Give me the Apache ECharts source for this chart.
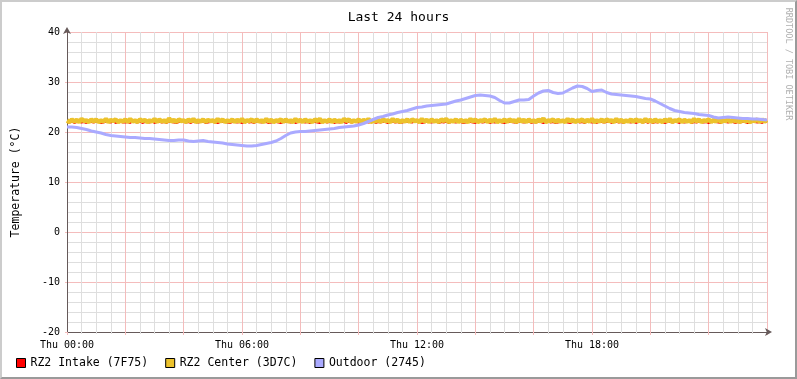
<!DOCTYPE html>
<html>
<head>
<meta charset="utf-8">
<script src="https://cdn.jsdelivr.net/npm/echarts@6/dist/echarts.min.js"></script>
<style>
html,body{margin:0;padding:0;background:#fff;}
#wrap{position:relative;width:797px;height:379px;}
#chart{position:absolute;left:0;top:0;width:797px;height:379px;}
#frame{position:absolute;left:0;top:0;width:797px;height:379px;box-sizing:border-box;
  border-top:2px solid #cccccc;border-left:2px solid #cccccc;border-right:2px solid #9a9a9a;border-bottom:2px solid #9a9a9a;pointer-events:none;}
</style>
</head>
<body>
<div id="wrap"><div id="chart"></div><div id="frame"></div></div>
<script>
// ---- data ----
const titleText = 'Last 24 hours';
const yAxisTitle = 'Temperature (°C)';
const seriesNames = ['RZ2 Intake (7F75)', 'RZ2 Center (3D7C)', 'Outdoor (2745)'];
const xTickLabels = ['Thu 00:00', 'Thu 06:00', 'Thu 12:00', 'Thu 18:00'];
const yTicks = [-20, -10, 0, 10, 20, 30, 40];
const fineStepHours = 5 / 60;    // Intake / Center sampling
const outdoorStepHours = 10 / 60; // Outdoor sampling

const intake = [
22.0,21.9,22.1,21.8,22.0,22.1,21.9,22.0,21.8,22.1,22.0,21.9,22.1,22.0,21.8,21.9,22.1,22.0,21.9,22.1,21.8,22.0,22.1,21.9,
21.9,22.0,21.8,22.1,22.0,21.9,22.1,21.8,22.0,22.0,21.9,22.1,21.8,22.0,22.1,21.9,22.0,21.8,22.1,22.0,21.9,21.8,22.0,22.1,
22.1,21.9,22.0,21.8,22.1,22.0,21.9,22.0,22.1,21.8,21.9,22.0,22.1,21.9,21.8,22.0,22.0,22.1,21.9,21.8,22.0,22.1,21.9,22.0,
21.8,22.0,22.1,21.9,22.0,21.8,22.1,22.0,21.9,22.1,22.0,21.8,21.9,22.1,22.0,21.9,21.8,22.0,22.1,22.0,21.9,22.1,21.8,22.0,
22.0,22.1,21.9,22.0,21.8,22.1,22.0,21.9,21.8,22.0,22.1,21.9,22.0,22.1,21.8,22.0,21.9,22.1,22.0,21.8,22.1,21.9,22.0,22.0,
21.9,21.8,22.0,22.1,21.9,22.0,22.1,21.8,22.0,21.9,22.1,22.0,21.8,22.0,22.1,21.9,22.0,21.8,21.9,22.1,22.0,22.0,21.9,22.1,
22.1,22.0,21.8,21.9,22.1,22.0,21.9,22.0,22.1,21.8,22.0,21.9,22.1,21.8,22.0,22.0,21.9,22.1,22.0,21.8,21.9,22.1,22.0,21.9,
21.8,22.1,22.0,21.9,22.0,22.1,21.8,22.0,21.9,22.0,22.1,21.9,21.8,22.0,22.1,22.0,21.9,21.8,22.1,22.0,21.9,22.0,22.1,21.8,
22.0,21.9,22.1,22.0,21.8,22.0,22.1,21.9,22.0,21.8,21.9,22.1,22.0,22.1,21.9,21.8,22.0,22.0,22.1,21.9,22.0,21.8,22.1,22.0,
21.9,22.0,21.8,22.1,22.0,21.9,22.0,22.1,21.8,22.0,22.1,21.9,22.0,21.8,22.1,22.0,21.9,22.1,21.8,22.0,22.0,21.9,22.1,21.8,
22.1,21.8,22.0,21.9,22.1,22.0,21.8,22.0,22.1,21.9,22.0,22.0,21.8,22.1,21.9,22.0,22.1,21.8,22.0,21.9,22.1,22.0,21.9,22.0,
21.8,22.0,22.1,22.0,21.9,21.8,22.1,22.0,21.9,22.1,22.0,21.8,22.0,21.9,22.1,22.0,21.8,21.9,22.1,22.0,21.9,22.0,21.8,22.1,
22.0
];

const center = [
22.3,22.0,22.5,22.1,22.4,22.0,22.6,22.2,22.3,22.0,22.5,22.1,22.5,22.0,22.3,22.1,22.6,22.0,22.4,22.2,22.5,22.0,22.3,22.1,
22.5,22.0,22.6,22.1,22.3,22.0,22.5,22.2,22.4,22.0,22.3,22.1,22.6,22.0,22.5,22.1,22.3,22.0,22.7,22.1,22.4,22.0,22.5,22.2,
22.3,22.0,22.5,22.1,22.6,22.0,22.3,22.1,22.5,22.0,22.4,22.2,22.3,22.0,22.6,22.1,22.5,22.0,22.3,22.1,22.5,22.0,22.4,22.1,
22.6,22.0,22.3,22.2,22.5,22.0,22.5,22.1,22.3,22.0,22.6,22.1,22.4,22.0,22.3,22.2,22.5,22.0,22.5,22.1,22.3,22.0,22.6,22.1,
22.4,22.0,22.5,22.1,22.3,22.0,22.5,22.2,22.6,22.0,22.3,22.1,22.5,22.0,22.4,22.1,22.3,22.0,22.6,22.2,22.5,22.0,22.3,22.1,
22.5,22.0,22.4,22.1,22.6,22.0,22.3,22.1,22.5,22.0,22.5,22.2,22.3,22.0,22.6,22.1,22.4,22.0,22.3,22.1,22.5,22.0,22.5,22.2,
22.3,22.0,22.6,22.1,22.4,22.0,22.5,22.1,22.3,22.0,22.5,22.2,22.6,22.0,22.3,22.1,22.5,22.0,22.4,22.1,22.3,22.0,22.6,22.1,
22.5,22.0,22.3,22.2,22.5,22.0,22.4,22.1,22.6,22.0,22.3,22.1,22.5,22.0,22.5,22.2,22.3,22.0,22.6,22.1,22.4,22.0,22.5,22.1,
22.3,22.0,22.5,22.1,22.7,22.0,22.3,22.2,22.5,22.0,22.4,22.1,22.3,22.0,22.6,22.1,22.5,22.0,22.3,22.2,22.5,22.0,22.4,22.1,
22.6,22.0,22.3,22.1,22.5,22.0,22.5,22.2,22.3,22.0,22.6,22.1,22.4,22.0,22.3,22.1,22.5,22.0,22.5,22.2,22.3,22.0,22.6,22.1,
22.4,22.0,22.5,22.1,22.3,22.0,22.5,22.1,22.6,22.0,22.3,22.2,22.5,22.0,22.4,22.1,22.3,22.0,22.6,22.1,22.5,22.0,22.3,22.2,
22.5,22.0,22.4,22.1,22.6,22.0,22.3,22.2,22.5,22.0,22.5,22.1,22.3,22.0,22.6,22.1,22.4,22.0,22.3,22.2,22.5,22.0,22.5,22.1,
22.4
];

const outdoor = [
21.0,21.0,20.9,20.7,20.5,20.2,20.0,19.8,19.5,19.3,19.2,19.1,19.0,18.9,18.9,18.8,18.7,18.7,18.6,18.5,
18.4,18.3,18.3,18.4,18.4,18.2,18.1,18.2,18.3,18.1,18.0,17.9,17.8,17.6,17.5,17.4,17.3,17.2,17.2,17.3,
17.5,17.7,17.9,18.2,18.7,19.3,19.8,20.0,20.1,20.1,20.2,20.3,20.4,20.5,20.6,20.7,20.9,21.0,21.1,21.2,
21.4,21.7,22.1,22.5,22.9,23.1,23.4,23.6,23.9,24.1,24.3,24.6,24.9,25.0,25.2,25.3,25.4,25.5,25.6,25.9,
26.2,26.4,26.7,27.0,27.3,27.4,27.3,27.2,26.9,26.3,25.8,25.8,26.1,26.4,26.4,26.5,27.2,27.8,28.2,28.3,
27.9,27.7,27.8,28.3,28.8,29.2,29.1,28.7,28.1,28.3,28.4,27.9,27.6,27.5,27.4,27.3,27.2,27.1,26.9,26.7,
26.6,26.2,25.7,25.2,24.7,24.3,24.1,23.9,23.8,23.7,23.5,23.4,23.3,23.0,22.8,22.9,23.0,22.9,22.8,22.7,
22.7,22.6,22.6,22.5,22.4
];

// ---- chart ----
const toPairs = (arr, step) => arr.map((v, i) => [i * step, v]);
const FONT = '"DejaVu Sans Mono", "Liberation Mono", monospace';
const MAJOR = '#f4bcbc';
const MINOR = '#dedede';
const AXIS = '#665a5a';

const chart = echarts.init(document.getElementById('chart'), null, {renderer: 'canvas'});
chart.setOption({
  animation: false,
  backgroundColor: '#ffffff',
  title: {
    text: titleText, left: 'center', top: 6,
    textStyle: {fontFamily: FONT, fontSize: 13, fontWeight: 'normal', color: '#000'}
  },
  grid: {left: 67, right: 30, top: 32, bottom: 47, containLabel: false},
  legend: {
    left: 16, top: 357, icon: 'rect', itemWidth: 9, itemHeight: 9, itemGap: 17,
    itemStyle: {borderColor: '#000', borderWidth: 1},
    textStyle: {fontFamily: FONT, fontSize: 11.5, color: '#000', padding: [0, 0, 0, 0]},
    padding: 0,
    data: seriesNames
  },
  xAxis: {
    type: 'value', min: 0, max: 24, interval: 2,
    axisLine: {show: true, onZero: false, lineStyle: {color: AXIS, width: 1}, symbol: ['none', 'arrow'], symbolSize: [6, 7], symbolOffset: [0, 5]},
    axisTick: {show: true, length: 3, lineStyle: {color: MAJOR}},
    minorTick: {show: true, splitNumber: 4, length: 2, lineStyle: {color: MINOR}},
    splitLine: {show: true, lineStyle: {color: MAJOR, width: 1}},
    minorSplitLine: {show: true, lineStyle: {color: MINOR, width: 1}},
    axisLabel: {
      fontFamily: FONT, fontSize: 10, color: '#000', margin: 8,
      formatter: v => (v % 6 === 0 && v < 24) ? xTickLabels[v / 6] : ''
    }
  },
  yAxis: {
    type: 'value', min: yTicks[0], max: yTicks[yTicks.length - 1], interval: 10,
    axisLine: {show: true, onZero: false, lineStyle: {color: AXIS, width: 1}, symbol: ['none', 'arrow'], symbolSize: [6, 7], symbolOffset: [0, 5]},
    axisTick: {show: true, length: 2, lineStyle: {color: MAJOR}},
    minorTick: {show: false, splitNumber: 5},
    splitLine: {show: true, lineStyle: {color: MAJOR, width: 1}},
    minorSplitLine: {show: true, lineStyle: {color: MINOR, width: 1}},
    axisLabel: {fontFamily: FONT, fontSize: 10, color: '#000', margin: 7}
  },
  graphic: [
    {type: 'text', x: 16, y: 182, rotation: Math.PI / 2,
     style: {text: yAxisTitle, font: '11.5px ' + FONT, fill: '#000', align: 'center', verticalAlign: 'middle'}},
    {type: 'text', x: 788, y: 64, rotation: -Math.PI / 2,
     style: {text: 'RRDTOOL / TOBI OETIKER', font: '8.5px ' + FONT, fill: '#b0b0b0', align: 'center', verticalAlign: 'middle'}}
  ],
  series: [
    {name: seriesNames[0], type: 'line', showSymbol: false, sampling: 'none', data: toPairs(intake, fineStepHours),
     lineStyle: {color: '#ff0000', width: 2}, itemStyle: {color: '#ff0000'}, z: 2},
    {name: seriesNames[1], type: 'line', showSymbol: false, sampling: 'none', data: toPairs(center, fineStepHours),
     lineStyle: {color: '#ecc22c', width: 4.5}, itemStyle: {color: '#ecc22c'}, z: 10},
    {name: seriesNames[2], type: 'line', showSymbol: false, data: toPairs(outdoor, outdoorStepHours),
     lineStyle: {color: '#aaaaff', width: 3}, itemStyle: {color: '#aaaaff'}, z: 11}
  ]
});
</script>
</body>
</html>
